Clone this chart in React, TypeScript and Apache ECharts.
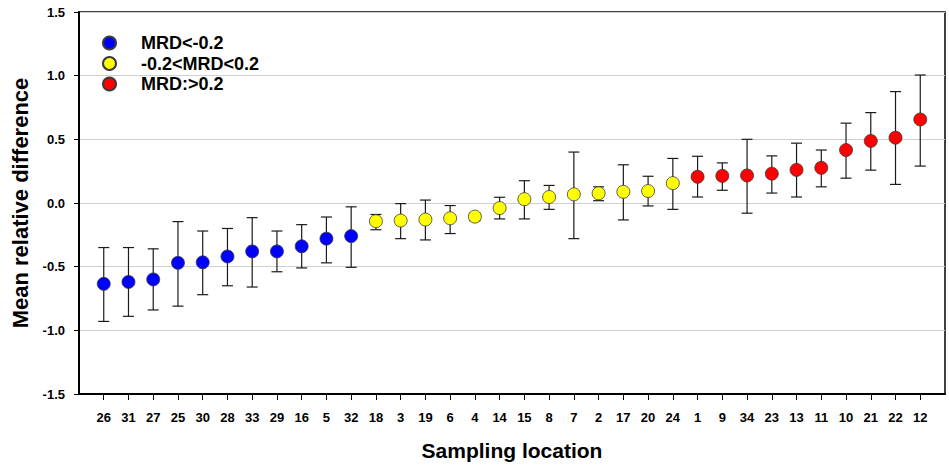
import React, { useEffect, useRef } from "react";
import * as echarts from "echarts";

const categories = ["26","31","27","25","30","28","33","29","16","5","32","18","3","19","6","4","14","15","8","7","2","17","20","24","1","9","34","23","13","11","10","21","22","12"];
const means = [-0.635,-0.62,-0.6,-0.47,-0.466,-0.42,-0.38,-0.38,-0.34,-0.28,-0.26,-0.143,-0.138,-0.13,-0.12,-0.107,-0.04,0.03,0.047,0.068,0.076,0.088,0.094,0.156,0.206,0.213,0.216,0.23,0.26,0.276,0.416,0.487,0.513,0.656];
const upper = [-0.35,-0.35,-0.36,-0.146,-0.22,-0.2,-0.115,-0.22,-0.17,-0.11,-0.03,-0.09,-0.005,0.023,-0.02,-0.08,0.045,0.175,0.138,0.4,0.127,0.3,0.21,0.35,0.367,0.315,0.5,0.37,0.47,0.416,0.627,0.71,0.875,1.005];
const lower = [-0.93,-0.89,-0.84,-0.81,-0.72,-0.65,-0.66,-0.54,-0.51,-0.47,-0.505,-0.21,-0.28,-0.29,-0.24,-0.14,-0.125,-0.125,-0.05,-0.28,0.018,-0.133,-0.023,-0.05,0.047,0.1,-0.08,0.078,0.047,0.127,0.195,0.258,0.146,0.29];
const groupNames = ["MRD<-0.2", "-0.2<MRD<0.2", "MRD:>0.2"];
const groupColors = ["#0000FF", "#FFFF00", "#FF0000"];
const yTicks = [-1.5, -1.0, -0.5, 0.0, 0.5, 1.0, 1.5];

const groupOf = (m: number) => (m < -0.2 ? 0 : m > 0.2 ? 2 : 1);

export default function App() {
  const ref = useRef<HTMLDivElement>(null);
  useEffect(() => {
    if (!ref.current) return;
    const chart = echarts.init(ref.current, undefined, { renderer: "svg" });
    const positions = categories.map((_, i) => i + 1);
    const errData = categories.map((_, i) => [i + 1, lower[i], upper[i]]);
    const groupSeries = groupNames.map((name, g) => ({
      name,
      type: "scatter",
      z: 5,
      symbol: "circle",
      symbolSize: 13,
      itemStyle: { color: groupColors[g], borderColor: "#3a3a3a", borderWidth: 0.8, opacity: 1 },
      data: means
        .map((m, i) => (groupOf(m) === g ? [i + 1, m] : null))
        .filter((d) => d !== null),
    }));
    const font = "'Liberation Sans', Arial, sans-serif";
    chart.setOption({
      animation: false,
      grid: {
        left: 79,
        right: 4,
        top: 12,
        bottom: 66,
        show: true,
        borderColor: "#000",
        borderWidth: 1.5,
        backgroundColor: "transparent",
      },
      legend: {
        orient: "vertical",
        left: 102,
        top: 34,
        padding: 0,
        itemGap: 2.5,
        itemWidth: 13,
        itemHeight: 13,
        icon: "circle",
        data: groupNames,
        itemStyle: { opacity: 1 },
        textStyle: {
          fontFamily: font,
          fontWeight: "bold",
          fontSize: 18,
          lineHeight: 18,
          color: "#000",
          padding: [0, 0, 0, 20],
        },
      },
      xAxis: {
        type: "value",
        min: 0,
        max: 35,
        interval: 1,
        name: "Sampling location",
        nameLocation: "middle",
        nameGap: 46,
        nameTextStyle: { fontFamily: font, fontWeight: "bold", fontSize: 21, color: "#000" },
        axisLine: { onZero: false, lineStyle: { color: "#000", width: 2 } },
        axisTick: { show: true, length: 6, customValues: positions, lineStyle: { color: "#000", width: 1 } },
        axisLabel: {
          customValues: positions,
          margin: 17,
          fontFamily: font,
          fontWeight: "bold",
          fontSize: 13,
          color: "#000",
          formatter: (v: number) => categories[Math.round(v) - 1] ?? "",
        },
        splitLine: { show: false },
      },
      yAxis: {
        type: "value",
        min: -1.5,
        max: 1.5,
        interval: 0.5,
        name: "Mean relative difference",
        nameLocation: "middle",
        nameGap: 44,
        nameTextStyle: { fontFamily: font, fontWeight: "bold", fontSize: 22, color: "#000" },
        axisLine: { show: true, onZero: false, lineStyle: { color: "#000", width: 2 } },
        axisTick: { show: true, length: 5, lineStyle: { color: "#000", width: 1 } },
        axisLabel: {
          margin: 14,
          fontFamily: font,
          fontWeight: "bold",
          fontSize: 13,
          color: "#000",
          formatter: (v: number) => (yTicks.includes(v) ? v.toFixed(1) : ""),
        },
        splitLine: { show: true, lineStyle: { color: "#cfcfcf", width: 1 } },
      },
      series: [
        {
          type: "custom",
          z: 2,
          silent: true,
          renderItem: (params: any, api: any) => {
            const x = api.value(0);
            const lo = api.coord([x, api.value(1)]);
            const hi = api.coord([x, api.value(2)]);
            const hw = 5.5;
            const style = { stroke: "#1a1a1a", lineWidth: 1.2 };
            return {
              type: "group",
              children: [
                { type: "line", shape: { x1: lo[0], y1: lo[1], x2: hi[0], y2: hi[1] }, style },
                { type: "line", shape: { x1: lo[0] - hw, y1: lo[1], x2: lo[0] + hw, y2: lo[1] }, style },
                { type: "line", shape: { x1: hi[0] - hw, y1: hi[1], x2: hi[0] + hw, y2: hi[1] }, style },
              ],
            };
          },
          encode: { x: 0, y: [1, 2] },
          data: errData,
        },
        ...groupSeries,
      ],
    });
    return () => chart.dispose();
  }, []);
  return (
    <div
      ref={ref}
      style={{ position: "fixed", left: 0, top: 0, width: 949, height: 466, background: "#fff" }}
    />
  );
}
